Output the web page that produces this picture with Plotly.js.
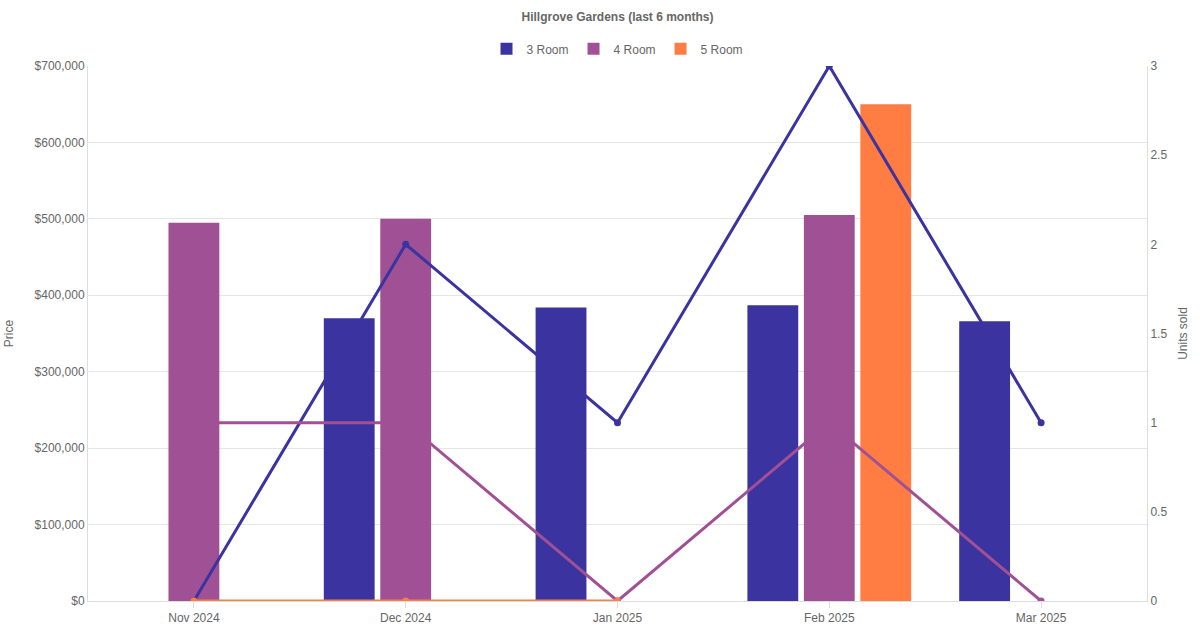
<!DOCTYPE html>
<html>
<head>
<meta charset="utf-8">
<script src="https://cdn.plot.ly/plotly-3.0.1.min.js"></script>
<style>body{margin:0}#chart{width:1200px;height:630px}</style>
</head>
<body>
<div id="chart"></div>
<script>
var months = ['Nov 2024', 'Dec 2024', 'Jan 2025', 'Feb 2025', 'Mar 2025'];

// average price per room type
var price3 = [null, 370000, 384000, 387000, 366000];
var price4 = [495000, 500000, null, 505000, null];
var price5 = [null, null, null, 650000, null];

// units sold per room type
var units3 = [0, 2, 1, 3, 1];
var units4 = [1, 1, 0, 1, 0];
var units5 = [0, 0, 0, null, null];

var colors = {r3: '#3a33a0', r4: '#a05195', r5: '#ff7c43'};

function bar(name, y, c) {
    return {x: months, y: y, name: name, type: 'bar', marker: {color: c},
        hovertemplate: '%{y:$,.0f}<extra>' + name + '</extra>'};
}
function line(name, y, c) {
    return {x: months, y: y, name: name, type: 'scatter', mode: 'lines+markers', yaxis: 'y2',
        showlegend: false, line: {color: c, width: 3}, marker: {color: c, size: 7}};
}

var data = [
    bar('3 Room', price3, colors.r3),
    bar('4 Room', price4, colors.r4),
    bar('5 Room', price5, colors.r5),
    line('3 Room', units3, colors.r3),
    line('4 Room', units4, colors.r4),
    line('5 Room', units5, colors.r5)
];

var layout = {
    width: 1200, height: 630,
    font: {family: 'Liberation Sans, Arial, sans-serif', size: 12, color: '#666'},
    title: {text: '<b>Hillgrove Gardens (last 6 months)</b>', x: 0.5, xref: 'paper', yref: 'container', y: 0.973, yanchor: 'middle',
        font: {size: 12, color: '#666'}},
    margin: {l: 88, r: 53, t: 66, b: 29},
    barmode: 'group', bargap: 0.2, bargroupgap: 0.1,
    legend: {orientation: 'h', x: 0.5, xanchor: 'center', y: 1.005, yanchor: 'bottom', font: {size: 12, color: '#666'}},
    xaxis: {type: 'category', showgrid: false, linecolor: '#ddd', ticks: 'outside', ticklen: 6, tickcolor: '#ddd'},
    yaxis: {title: {text: 'Price', font: {size: 12}, standoff: 18}, range: [0, 700000], dtick: 100000, tickprefix: '$', tickformat: ',',
        gridcolor: '#e5e5e5', linecolor: '#ddd', showline: true, zeroline: false, automargin: false},
    yaxis2: {title: {text: 'Units sold', font: {size: 12}}, overlaying: 'y', side: 'right', range: [0, 3], dtick: 0.5,
        showgrid: false, zeroline: false, showline: true, linecolor: '#ddd'},
    plot_bgcolor: '#fff', paper_bgcolor: '#fff'
};

Plotly.newPlot('chart', data, layout, {displayModeBar: false});
</script>
</body>
</html>
